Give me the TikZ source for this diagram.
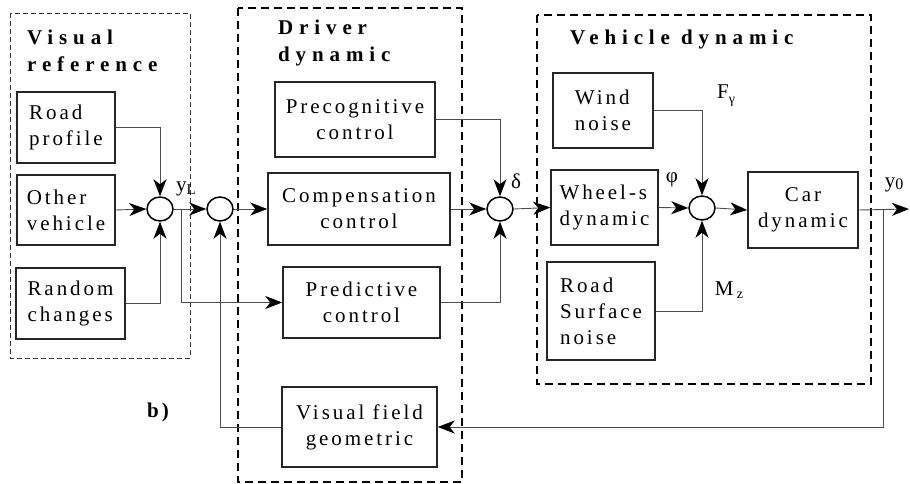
\documentclass[tikz,border=0pt]{standalone}
\usepackage{fontspec}
\setmainfont[LetterSpace=14]{Liberation Serif}
\newfontfamily\titlefont[LetterSpace=28]{Liberation Serif}
\usetikzlibrary{arrows.meta,shapes.geometric}
\begin{document}
\begin{tikzpicture}[x=1pt,y=-1pt,
  every node/.style={font=\fontsize{21}{26}\selectfont},
  blk/.style={draw=black!85,line width=1.5pt,inner sep=0pt},
  sumc/.style={draw=black,line width=1.5pt,ellipse,minimum width=26pt,minimum height=24pt,inner sep=0pt},
  conn/.style={draw=black!70,line width=0.9pt},
  arr/.style={conn,-{Stealth[length=17pt,width=13pt,inset=5pt,color=black]}},
  ttl/.style={font=\titlefont\bfseries\fontsize{21}{26}\selectfont,anchor=base west,inner sep=0pt},
  lbl/.style={inner sep=0pt},
  thindash/.style={draw=black!80,line width=0.8pt,dash pattern=on 5pt off 3pt},
  thickdash/.style={draw=black,line width=2.4pt,dash pattern=on 8pt off 5pt}]
\useasboundingbox (0,0) rectangle (910,484);
% group frames
\draw[thindash] (10,13) rectangle (190,358);
\draw[thickdash] (238,8) rectangle (462,482);
\draw[thickdash] (537,15) rectangle (871,384);
% titles
\node[ttl] (t1) at (27,45) {Visual};
\node[ttl] (t2) at (27,72) {reference};
\node[ttl] (t3) at (278,35) {Driver};
\node[ttl] (t4) at (278,62) {dynamic};
\node[ttl] (t5) at (570,45) {Vehicle dynamic};
% blocks
\node[blk,minimum width=98pt,minimum height=71pt,align=left] (road) at (66,127.5) {Road\\profile};
\node[blk,minimum width=98pt,minimum height=70pt,align=left] (other) at (66,210) {Other\\vehicle};
\node[blk,minimum width=109pt,minimum height=71pt,align=left] (random) at (70.5,303.5) {Random\\changes};
\node[blk,minimum width=160pt,minimum height=75pt,align=center] (precog) at (355,119.5) {Precognitive\\control};
\node[blk,minimum width=182pt,minimum height=72pt,align=center] (comp) at (359,209) {Compensation\\control};
\node[blk,minimum width=157pt,minimum height=71pt,align=center] (pred) at (361.5,302.5) {Predictive\\control};
\node[blk,minimum width=155pt,minimum height=80pt,align=center] (vfg) at (359.5,427) {Visual field\\geometric};
\node[blk,minimum width=100pt,minimum height=75pt,align=left] (wind) at (603,110.5) {Wind\\noise};
\node[blk,minimum width=107pt,minimum height=75pt,align=left] (wheel) at (604.5,207.5) {Wheel-s\\dynamic};
\node[blk,minimum width=108pt,minimum height=98pt,align=left] (rsn) at (601,311) {Road\\Surface\\noise};
\node[blk,minimum width=110pt,minimum height=76pt,align=center] (car) at (803,210) {Car\\dynamic};
% summing junctions
\node[sumc] (c1) at (160,209) {};
\node[sumc] (c2) at (220,209) {};
\node[sumc] (c3) at (500,209) {};
\node[sumc] (c4) at (702,208) {};
% helper coordinates
\coordinate (br1) at (181,209);
\coordinate (out) at (909,209);
\coordinate (br2) at (883,209);
% connectors
\draw[arr] (road.east) -| (c1.north);
\draw[arr] (other.east) -- (c1.west);
\draw[arr] (random.east) -| (c1.south);
\draw[arr] (c1.east) -- (c2.west);
\draw[arr] (br1) |- (pred.west);
\draw[arr] (c2.east) -- (comp.west);
\draw[arr] (precog.east) -| (c3.north);
\draw[arr] (comp.east) -- (c3.west);
\draw[arr] (pred.east) -| (c3.south);
\draw[arr] (c3.east) -- (wheel.west);
\draw[arr] (wind.east) -| (c4.north);
\draw[arr] (wheel.east) -- (c4.west);
\draw[arr] (rsn.east) -| (c4.south);
\draw[arr] (c4.east) -- (car.west);
\draw[arr] (car.east) -- (out);
\draw[arr] (br2) |- (vfg.east);
\draw[arr] (vfg.west) -| (c2.south);
% labels
\node[lbl] (lyl) at (186,189) {y\raisebox{-3pt}{\fontsize{15}{15}\selectfont L}};
\node[lbl] (ld) at (516,181) {δ};
\node[lbl] (lphi) at (672,180) {φ};
\node[lbl] (lf) at (726,96) {F\raisebox{-5pt}{\fontsize{14}{14}\selectfont γ}};
\node[lbl] (lm) at (729,290) {M\,\raisebox{-3pt}{\fontsize{14}{14}\selectfont z}};
\node[lbl] (ly0) at (894,185) {y\raisebox{-2pt}{\fontsize{16}{16}\selectfont 0}};
\node[lbl,font=\bfseries\fontsize{21}{26}\selectfont] (lb) at (158,412) {b)};
\end{tikzpicture}
\end{document}
